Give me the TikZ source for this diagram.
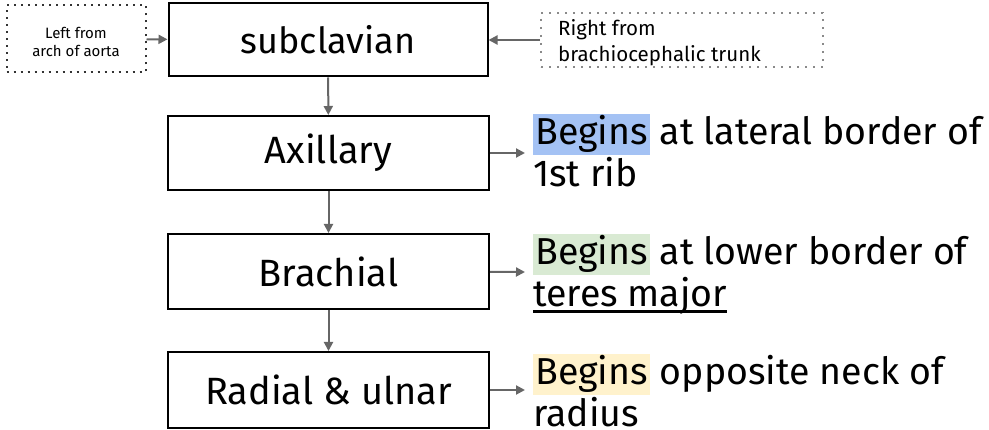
\documentclass[tikz,border=0pt]{standalone}
\usepackage{fontspec}
\setmainfont{Fira Sans}
\usetikzlibrary{arrows.meta}
\definecolor{arrowgray}{HTML}{666666}
\definecolor{hlblue}{HTML}{A4C2F4}
\definecolor{hlgreen}{HTML}{D9EAD3}
\definecolor{hlyellow}{HTML}{FFF2CC}
\definecolor{dotdark}{HTML}{333333}
\definecolor{dotlight}{HTML}{8A8A8A}
% highlighted word with a coloured band behind it
\newcommand\hlword[2]{{\setlength\fboxsep{0pt}\colorbox{#1}{\rule[-10pt]{0pt}{41pt}\kern2pt #2\kern2pt}}}
% word with a thick underline
\newcommand\thickul[1]{{\setbox0\hbox{#1}\rlap{\rule[-6pt]{\wd0}{3pt}}\box0}}
\begin{document}
\begin{tikzpicture}[x=1pt,y=-1pt,
  vessel/.style={draw=black, line width=2pt, minimum width=321pt, minimum height=74pt,
    inner sep=0pt, font=\fontsize{38}{42}\selectfont},
  srcleft/.style={draw=dotdark, line width=2pt, dash pattern=on 2pt off 5pt,
    minimum width=139pt, minimum height=67pt, inner sep=0pt},
  srcright/.style={draw=dotlight, line width=1.6pt, dash pattern=on 1.6pt off 6.4pt,
    minimum width=282pt, minimum height=54pt, inner sep=0pt},
  note/.style={anchor=base west, inner sep=0pt, font=\fontsize{37.5}{42}\selectfont},
  arr/.style={draw=arrowgray, line width=2pt, -{Triangle[length=9pt,width=9pt]}}]
\useasboundingbox (0,0) rectangle (989,430);

% main chain of arteries
\node[vessel, minimum width=319pt, minimum height=73pt, font=\fontsize{36}{40}\selectfont]
  (sub) at (328,40) {subclavian};
\node[vessel] (ax) at (328.5,153) {Axillary};
\node[vessel, minimum height=75pt] (br) at (328.5,271.5) {Brachial};
\node[vessel, minimum height=76pt] (ru) at (328.5,390) {Radial \& ulnar};

% origins of the subclavian
\node[srcleft] (lsrc) at (76,39) {};
\node[anchor=center, inner sep=0pt, align=center, font=\fontsize{15}{18}\selectfont]
  (ltxt) at (76,42) {Left from\\arch of aorta};
\node[srcright] (rsrc) at (682,40) {};
\node[anchor=west, inner sep=0pt, align=left, font=\fontsize{20.5}{26}\selectfont]
  (rtxt) at (558,43) {Right from\\brachiocephalic trunk};

\draw[arr] (lsrc) -- (sub);
\draw[arr] (rsrc) -- (sub);
\draw[arr] (sub) -- (ax);
\draw[arr] (ax) -- (br);
\draw[arr] (br) -- (ru);

% where each artery begins
\node[note] (axn1) at (533,145) {\hlword{hlblue}{Begins} at lateral border of};
\node[note] (axn2) at (533,187) {1st rib};
\node[note] (brn1) at (533,265) {\hlword{hlgreen}{Begins} at lower border of};
\node[note] (brn2) at (533,307) {\thickul{teres major}};
\node[note] (run1) at (533,385) {\hlword{hlyellow}{Begins} opposite neck of};
\node[note] (run2) at (533,427) {radius};

\coordinate (axin) at (525,153);
\coordinate (brin) at (525,272);
\coordinate (ruin) at (525,390);
\draw[arr] (ax) -- (axin);
\draw[arr] (br) -- (brin);
\draw[arr] (ru) -- (ruin);
\end{tikzpicture}
\end{document}
